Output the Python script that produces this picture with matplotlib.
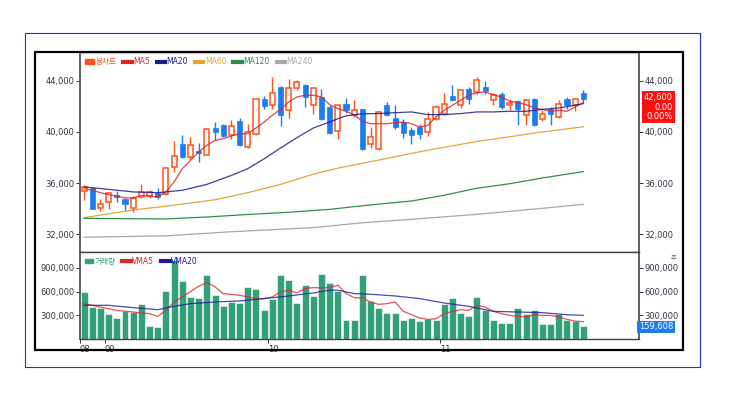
import matplotlib.pyplot as plt
from matplotlib.patches import Rectangle, Patch
from matplotlib.lines import Line2D

plt.rcParams['font.family'] = ['DejaVu Sans', 'Noto Sans CJK KR']

opens = [35380, 35600, 34030, 34500, 35070, 34760, 34030, 34940, 35020, 35230,
         35130, 37260, 39080, 38040, 38480, 38220, 40300, 40510, 39730, 40830,
         38820, 39860, 42600, 42130, 43510, 41690, 43430, 43690, 42080, 42730,
         41950, 40050, 42210, 41350, 41760, 39080, 38640, 42080, 41090, 40770,
         40120, 40380, 39990, 41030, 41430, 42810, 42080, 43380, 43120, 43510,
         42470, 42990, 42080, 42390, 41300, 42550, 41030, 41820, 41170, 42600,
         42080, 43000]
highs = [35830, 35650, 34760, 35330, 35380, 34860, 35020, 35900, 35460, 35640,
         37280, 39260, 39730, 39600, 39160, 40250, 40770, 40590, 40900, 41090,
         40640, 42600, 42800, 44290, 43590, 44160, 44030, 43770, 43510, 43380,
         42080, 42130, 42650, 42470, 41820, 40380, 41630, 42340, 42080, 40980,
         40380, 40640, 41560, 42080, 43070, 43640, 43330, 43510, 44290, 43950,
         43070, 43120, 42600, 42470, 42550, 42650, 41690, 41950, 42470, 42730,
         42650, 43250]
lows = [34660, 33980, 33820, 33980, 34550, 33900, 33770, 34810, 34860, 34760,
        35070, 36870, 37970, 37860, 37650, 38170, 39340, 39600, 39470, 38900,
        38740, 39780, 41760, 41760, 40460, 41090, 43250, 41950, 41430, 40900,
        39860, 39470, 41500, 41170, 38610, 38740, 38560, 41240, 40250, 39520,
        39080, 39470, 39680, 40900, 41300, 42390, 41870, 42210, 42990, 42990,
        42130, 41820, 41690, 40510, 40570, 40440, 40830, 40570, 41090, 41820,
        41610, 42340]
closes = [35700, 34000, 34340, 35200, 34940, 34340, 34860, 35280, 35330, 34940,
          37200, 38120, 38040, 38950, 38350, 40200, 39990, 39680, 40460, 38950,
          39990, 42550, 42020, 43070, 41300, 43430, 43900, 42730, 43430, 41030,
          39940, 42080, 41690, 41690, 38690, 39600, 41560, 41350, 40380, 39940,
          39730, 39860, 41030, 41950, 42210, 42470, 43250, 42600, 44030, 43170,
          42860, 41950, 42290, 41760, 42470, 40510, 41430, 41430, 42210, 42080,
          42600, 42600]

ma5 = [35570, 35440, 35250, 35100, 34990, 34840, 34840, 35040, 34990, 34920,
       35310, 36090, 37130, 37780, 38430, 38950, 39340, 39470, 39680, 39860,
       39860, 40300, 40770, 41300, 41760, 42340, 42730, 42860, 42860, 42730,
       42130, 41820, 41610, 41350, 40830, 40640, 40640, 40640, 40720, 40770,
       40640, 40380, 40510, 41170, 41690, 42080, 42470, 42860, 43070, 43120,
       42910, 42730, 42390, 42290, 42130, 41870, 41760, 41610, 41690, 41610,
       41950, 42290]
ma20_idx = [0, 3, 6, 9, 12, 15, 18, 20, 22, 24, 26, 28, 30, 31, 32, 34, 36, 38,
            40, 42, 44, 46, 48, 50, 52, 54, 56, 58, 60, 61]
ma20 = [35700, 35510, 35310, 35250, 35440, 35900, 36600, 37130, 37900, 38740,
        39550, 40300, 40770, 41030, 41250, 41420, 41430, 41500, 41560, 41350,
        41350, 41430, 41560, 41560, 41610, 41610, 41760, 41870, 42080, 42210]
ma60_idx = [0, 6, 10, 16, 20, 24, 28, 31, 36, 40, 44, 48, 52, 56, 61]
ma60 = [33300, 33900, 34200, 34700, 35250, 35900, 36700, 37170, 37800, 38330,
        38800, 39250, 39620, 40000, 40400]
ma120_idx = [0, 5, 10, 15, 20, 25, 30, 35, 40, 44, 48, 52, 56, 61]
ma120 = [33250, 33220, 33200, 33350, 33550, 33720, 33950, 34300, 34600, 35050,
         35600, 35950, 36400, 36900]
ma240_idx = [0, 10, 18, 28, 34, 40, 48, 56, 61]
ma240 = [31770, 31880, 32200, 32520, 32900, 33170, 33560, 34030, 34340]

volumes = [595000, 404000, 392000, 320000, 269000, 353000, 340000, 447000, 167000, 150000,
           608000, 998000, 735000, 532000, 519000, 807000, 561000, 417000, 468000, 460000,
           659000, 629000, 362000, 502000, 807000, 744000, 460000, 680000, 544000, 820000,
           709000, 608000, 244000, 244000, 807000, 481000, 392000, 328000, 328000, 244000,
           265000, 227000, 256000, 244000, 447000, 519000, 328000, 290000, 532000, 362000,
           244000, 206000, 206000, 392000, 320000, 371000, 193000, 193000, 320000, 244000,
           222000, 159608]
vma5_idx = [0, 2, 4, 6, 8, 9, 10, 11, 12, 14, 15, 16, 17, 19, 21, 22, 23, 24, 25,
            26, 27, 28, 29, 30, 31, 32, 33, 34, 35, 36, 37, 38, 39, 40, 41, 42, 43,
            44, 45, 46, 47, 48, 49, 50, 51, 52, 53, 54, 55, 56, 57, 58, 59, 60, 61]
vma5 = [447000, 404000, 362000, 341000, 320000, 286000, 362000, 468000, 532000,
        667000, 714000, 659000, 574000, 553000, 511000, 511000, 532000, 595000,
        617000, 583000, 638000, 650000, 646000, 650000, 680000, 574000, 523000,
        519000, 468000, 438000, 447000, 468000, 350000, 307000, 265000, 248000,
        256000, 320000, 350000, 371000, 362000, 426000, 404000, 350000, 320000,
        299000, 286000, 278000, 307000, 299000, 299000, 278000, 248000, 227000,
        218000]
vma20_idx = [0, 3, 6, 9, 11, 13, 16, 19, 22, 25, 28, 30, 31, 33, 35, 38, 41, 44,
             47, 50, 53, 56, 59, 61]
vma20 = [426000, 426000, 396000, 371000, 413000, 447000, 468000, 481000, 511000,
         544000, 583000, 617000, 617000, 574000, 566000, 544000, 511000, 455000,
         413000, 350000, 341000, 333000, 307000, 299000]

price_ticks = [32000, 36000, 40000, 44000]
price_labels = ["32,000", "36,000", "40,000", "44,000"]
vol_ticks = [300000, 600000, 900000]
vol_labels = ["300,000", "600,000", "900,000"]
month_pos = [-0.5, 2.5, 22.5, 43.5]
month_labels = ["08", "09", "10", "11"]

up_c = "#ff5219"
down_c = "#1c7cf2"
ink = "#333344"

fig = plt.figure(figsize=(7.4, 3.93), dpi=100)
fig.patches.append(Rectangle((25 / 740, 1 - 367 / 393), 675 / 740, 334 / 393,
                             transform=fig.transFigure, fill=False, ec="#2a2ad0", lw=0.8))
fig.patches.append(Rectangle((35 / 740, 1 - 350 / 393), 648 / 740, 298 / 393,
                             transform=fig.transFigure, fill=False, ec="black", lw=1.6))

ax = fig.add_axes([80 / 740, 1 - 252 / 393, 559 / 740, 200 / 393])
axv = fig.add_axes([80 / 740, 1 - 339 / 393, 559 / 740, 87 / 393], sharex=ax)

x = list(range(len(closes)))
for i in x:
    o, h, l, c = opens[i], highs[i], lows[i], closes[i]
    col = up_c if c >= o else down_c
    ax.vlines(i, l, h, color=col, lw=1, zorder=2)
    if c >= o:
        ax.bar(i, max(c - o, 60), bottom=o, width=0.62, color="white", edgecolor=col, lw=1.1, zorder=3)
    else:
        ax.bar(i, max(o - c, 60), bottom=c, width=0.62, color=col, edgecolor=col, lw=0.5, zorder=3)

ax.plot(x, ma5, color="#d8252a", lw=0.9, alpha=0.85, zorder=4)
ax.plot(ma20_idx, ma20, color="#1b1d8a", lw=0.9, alpha=0.85, zorder=4)
ax.plot(ma60_idx, ma60, color="#e8a335", lw=0.9, zorder=1)
ax.plot(ma120_idx, ma120, color="#2f8d4a", lw=0.9, zorder=1)
ax.plot(ma240_idx, ma240, color="#a8a8a8", lw=0.9, zorder=1)

ax.set_xlim(-0.37, 67.8)
ax.set_ylim(30617, 46242)
ax.set_yticks(price_ticks)
ax.set_yticklabels(price_labels)

axv.bar(x, volumes, width=0.85, color="#34a07a", edgecolor="white", lw=0.4)
axv.plot(vma5_idx, vma5, color="#e0262a", lw=0.9, alpha=0.8)
axv.plot(vma20_idx, vma20, color="#1b1d9a", lw=0.9, alpha=0.8)
axv.set_ylim(0, 1100000)
axv.set_yticks(vol_ticks)
axv.set_yticklabels(vol_labels)
axv.set_xticks(month_pos)
axv.set_xticklabels(month_labels, ha="left")

for a in (ax, axv):
    a.tick_params(axis="y", which="both", left=True, right=True, labelleft=True, labelright=True,
                  direction="out", length=3, width=0.7, labelsize=6, colors=ink, pad=1)
    for s in ("left", "right"):
        a.spines[s].set_color("#555555")
        a.spines[s].set_linewidth(1.3)
    for s in ("top", "bottom"):
        a.spines[s].set_color("#444444")
        a.spines[s].set_linewidth(1.0)
ax.tick_params(axis="x", bottom=False, labelbottom=False)
axv.tick_params(axis="x", direction="out", length=3, width=0.7, labelsize=6, colors=ink, pad=1)

leg_handles = [Patch(color=up_c), Line2D([], [], color="#d8252a", lw=3),
               Line2D([], [], color="#1b1d8a", lw=3), Line2D([], [], color="#e8a335", lw=3),
               Line2D([], [], color="#2f8d4a", lw=3), Line2D([], [], color="#a8a8a8", lw=3)]
leg = ax.legend(leg_handles, ["봉차트", "MA5", "MA20", "MA60", "MA120", "MA240"], loc="upper left",
                ncol=6, frameon=False, fontsize=5.5, handlelength=1.1, handleheight=0.5,
                handletextpad=0.2, columnspacing=0.9, borderaxespad=0.3, labelcolor="linecolor")
for t, h in zip(leg.get_texts(), leg_handles):
    t.set_color(h.get_facecolor() if isinstance(h, Patch) else h.get_color())

vleg_handles = [Patch(color="#34a07a"), Line2D([], [], color="#e0262a", lw=3),
                Line2D([], [], color="#1b1d9a", lw=3)]
vleg = axv.legend(vleg_handles, ["거래량", "VMA5", "VMA20"], loc="upper left", ncol=3,
                  frameon=False, fontsize=5.5, handlelength=1.1, handleheight=0.5,
                  handletextpad=0.2, columnspacing=0.9, borderaxespad=0.2)
for t, h in zip(vleg.get_texts(), vleg_handles):
    t.set_color(h.get_facecolor() if isinstance(h, Patch) else h.get_color())

fig.text(673 / 740, 1 - 107 / 393, "42,600\n0.00\n0.00%", ha="right", va="center", color="white",
         fontsize=6, linespacing=1.05, bbox=dict(boxstyle="square,pad=0.2", fc="#ff1010", ec="none"))
fig.text(673 / 740, 1 - 327 / 393, "159,608", ha="right", va="center", color="white",
         fontsize=6, bbox=dict(boxstyle="square,pad=0.2", fc="#1c7cf2", ec="none"))
fig.text(676 / 740, 1 - 259 / 393, "주", ha="right", va="center", color="#555555", fontsize=4.5)

plt.savefig("out.png", dpi=100)
